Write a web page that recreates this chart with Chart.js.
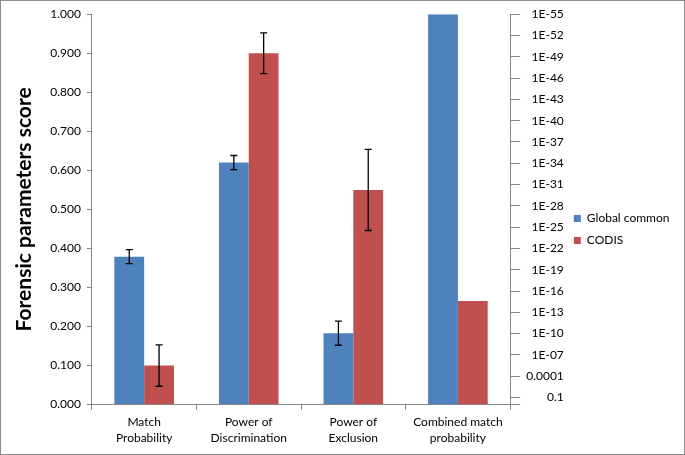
<!DOCTYPE html>
<html>
<head>
<meta charset="utf-8">
<script src="https://cdn.jsdelivr.net/npm/chart.js@4"></script>
<style>
  html, body { margin: 0; padding: 0; background: #fff; }
  #wrap { width: 683px; height: 453px; border: 1px solid #8c8c8c; position: relative; }
</style>
</head>
<body>
<div id="wrap"><canvas id="chart" width="683" height="453"></canvas></div>
<script>
// categories and values
const categories = [['Match', 'Probability'], ['Power of', 'Discrimination'], ['Power of', 'Exclusion'], ['Combined match', 'probability']];
const globalCommon = [0.379, 0.620, 0.183, null];
const globalCommonErr = [0.018, 0.018, 0.031, null];
const codis = [0.100, 0.900, 0.550, null];
const codisErr = [0.053, 0.052, 0.104, null];
// combined match probability, on the right (log) axis
const globalCombined = [null, null, null, 1e-55];
const codisCombined = [null, null, null, 2.6e-15];

const leftTicks = [0, 0.1, 0.2, 0.3, 0.4, 0.5, 0.6, 0.7, 0.8, 0.9, 1.0];
const rightTickValues = [1e-55, 1e-52, 1e-49, 1e-46, 1e-43, 1e-40, 1e-37, 1e-34, 1e-31, 1e-28,
  1e-25, 1e-22, 1e-19, 1e-16, 1e-13, 1e-10, 1e-7, 1e-4, 1e-1, 1];
const rightTickLabels = ['1E-55', '1E-52', '1E-49', '1E-46', '1E-43', '1E-40', '1E-37', '1E-34', '1E-31', '1E-28',
  '1E-25', '1E-22', '1E-19', '1E-16', '1E-13', '1E-10', '1E-07', '0.0001', '0.1', ''];

const BLUE = '#4f81bd';
const RED = '#c0504d';
const AXIS = '#868686';
const FONT = 'Lato';

// bars on the log axis grow from 1 (bottom of reversed axis)
const toFloat = arr => arr.map(v => v === null ? null : [1, v]);

// draw the error bars with the scales
const errorBars = {
  id: 'errorBars',
  afterDatasetsDraw(chart) {
    const ctx = chart.ctx;
    const y = chart.scales.y;
    ctx.save();
    ctx.strokeStyle = '#000';
    ctx.lineWidth = 1.3;
    chart.data.datasets.forEach((ds, di) => {
      if (!ds.errors) return;
      const meta = chart.getDatasetMeta(di);
      ds.data.forEach((v, i) => {
        const e = ds.errors[i];
        if (v === null || e === null) return;
        const x = meta.data[i].x;
        const top = y.getPixelForValue(v + e);
        const bot = y.getPixelForValue(v - e);
        ctx.beginPath();
        ctx.moveTo(x, top); ctx.lineTo(x, bot);
        ctx.moveTo(x - 3.5, top); ctx.lineTo(x + 3.5, top);
        ctx.moveTo(x - 3.5, bot); ctx.lineTo(x + 3.5, bot);
        ctx.stroke();
      });
    });
    ctx.restore();
  }
};

new Chart(document.getElementById('chart'), {
  type: 'bar',
  data: {
    labels: categories,
    datasets: [
      { label: 'Global common', data: globalCommon, errors: globalCommonErr, backgroundColor: BLUE, yAxisID: 'y', stack: 'g' },
      { label: 'CODIS', data: codis, errors: codisErr, backgroundColor: RED, yAxisID: 'y', stack: 'c' },
      { label: 'Global common (combined)', data: toFloat(globalCombined), backgroundColor: BLUE, yAxisID: 'y2', stack: 'g' },
      { label: 'CODIS (combined)', data: toFloat(codisCombined), backgroundColor: RED, yAxisID: 'y2', stack: 'c' }
    ]
  },
  options: {
    responsive: false,
    animation: false,
    barPercentage: 1,
    categoryPercentage: 0.57,
    layout: { padding: { top: 8, left: 7, right: 9, bottom: 4 } },
    plugins: {
      tooltip: { enabled: false },
      legend: {
        position: 'right',
        align: 'center',
        labels: {
          filter: item => item.datasetIndex < 2,
          boxWidth: 7,
          boxHeight: 7,
          padding: 10,
          color: '#000',
          font: { family: FONT, size: 12 }
        }
      }
    },
    scales: {
      x: {
        offset: true,
        grid: { display: true, drawOnChartArea: false, offset: true, color: AXIS, tickLength: 5 },
        border: { color: AXIS },
        ticks: { color: '#000', font: { family: FONT, size: 12, lineHeight: 1.35 }, maxRotation: 0, autoSkip: false, padding: 4 }
      },
      y: {
        position: 'left',
        min: 0,
        max: 1,
        afterBuildTicks: s => { s.ticks = leftTicks.map(v => ({ value: v })); },
        ticks: { callback: v => v.toFixed(3), color: '#000', font: { family: FONT, size: 12 }, padding: 6 },
        grid: { drawOnChartArea: false, color: AXIS, tickLength: 5 },
        border: { color: AXIS },
        title: { display: true, text: 'Forensic parameters score', color: '#000', font: { family: FONT, size: 21, weight: 'bold' }, padding: { top: 4, bottom: 7 } }
      },
      y2: {
        type: 'logarithmic',
        position: 'right',
        reverse: true,
        min: 1e-55,
        max: 1,
        afterBuildTicks: s => { s.ticks = rightTickValues.map(v => ({ value: v })); },
        ticks: {
          autoSkip: false,
          crossAlign: 'far',
          callback: (v, i) => rightTickLabels[i],
          color: '#000',
          font: { family: FONT, size: 12 },
          padding: 3
        },
        grid: { drawOnChartArea: false, color: AXIS, tickLength: 10 },
        border: { color: AXIS }
      }
    }
  },
  plugins: [errorBars]
});
</script>
</body>
</html>
